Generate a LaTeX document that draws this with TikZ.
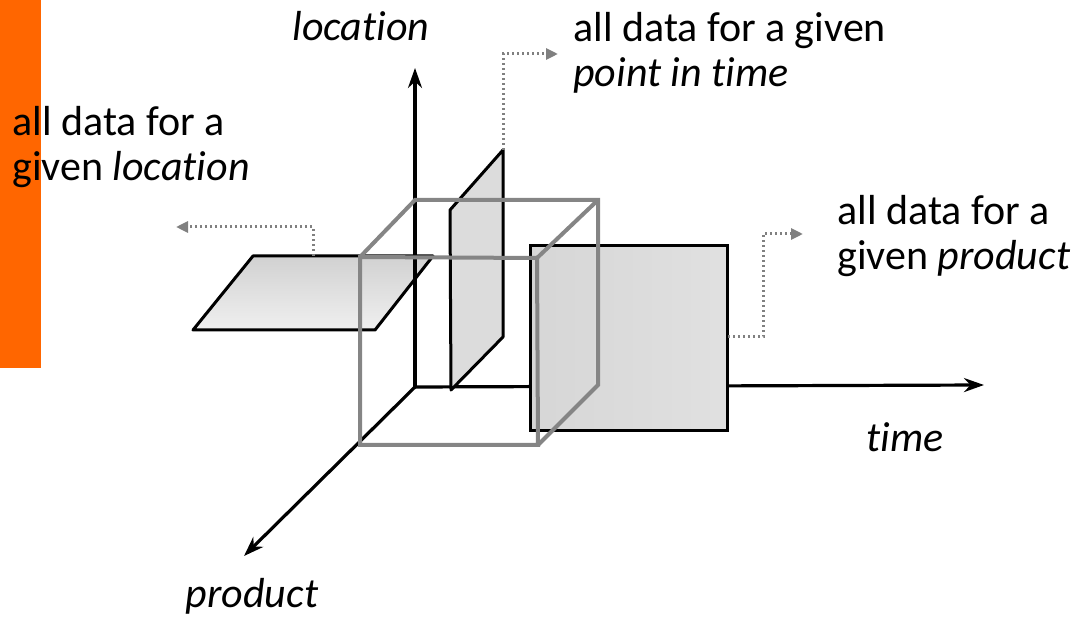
\documentclass[tikz,border=0pt]{standalone}
\usepackage{fontspec}
\setmainfont{Carlito}[Ligatures=NoCommon]
\usetikzlibrary{arrows.meta}
\definecolor{slideorange}{HTML}{FF6600}
\definecolor{cubegray}{HTML}{858585}
\definecolor{slicefill}{HTML}{DCDCDC}
\tikzset{
  axis/.style={line width=1.6pt, -{Stealth[length=10pt,width=7pt]}},
  slice/.style={draw=black, line width=1.5pt, fill=slicefill, line join=round},
  cubeedge/.style={draw=cubegray, line width=2pt},
  pointer/.style={draw=gray, line width=1.5pt, dash pattern=on 1.1pt off 1.4pt, -{Triangle[length=6pt,width=5.5pt]}},
  lbl/.style={inner sep=0pt, font=\fontsize{21}{22.5}\selectfont}
}
\begin{document}
\begin{tikzpicture}[x=0.5pt,y=-0.5pt]
            \useasboundingbox (0,0) rectangle (1076,624);
            \fill[slideorange] (0,0) rectangle (41,368);
            % origin and axes
            \coordinate (O) at (415,387);
            \coordinate (locend) at (415,68);
            \coordinate (timeend) at (984,385);
            \coordinate (prodend) at (244,556);
            % slice on location
            \shade[top color=black!18, bottom color=black!6, draw=black, line width=1.5pt, line join=round]
                (253,256) -- (433,256) -- (375,330) -- (193,330) -- cycle;
            \draw[axis] (O) -- (locend);
            \draw[axis] (O) -- (timeend);
            \draw[axis] (O) -- (prodend);
            % slice on time
            \draw[slice] (450,210) -- (503,150) -- (503,337) -- (451,390) -- cycle;
            % slice on product
            \shade[left color=black!16, right color=black!12, draw=black, line width=1.5pt]
                (530,246) rectangle (727,431);
            % cube
            \coordinate (f1) at (360,257);
            \coordinate (f2) at (537,258);
            \coordinate (f3) at (538,445);
            \coordinate (f4) at (360,445);
            \coordinate (b1) at (415,200);
            \coordinate (b2) at (598,200);
            \coordinate (b3) at (598,385);
            \draw[cubeedge] (f1) -- (f2) -- (f3) -- (f4) -- cycle;
            \draw[cubeedge] (f1) -- (b1) -- (b2) -- (b3) -- (f3);
            \draw[cubeedge] (f2) -- (b2);
            % labels
            \node[lbl, anchor=base] (loclbl) at (361,41) {\itshape location};
            \node[lbl, anchor=base] (timelbl) at (905,452) {\itshape time};
            \node[lbl, anchor=base] (prodlbl) at (252,608) {\itshape product};
            \node[lbl, anchor=base west, align=left] (timetxt) at (573,87)
                {all data for a given\\\itshape point in time};
            \node[lbl, anchor=base west, align=left] (loctxt) at (12,181)
                {all data for a\\given \itshape location};
            \node[lbl, anchor=base west, align=left] (prodtxt) at (837,270)
                {all data for a\\given \itshape product};
            % pointers
            \coordinate (p1) at (313,256);
            \coordinate (p1e) at (176,227);
            \draw[pointer] (p1) |- (p1e);
            \coordinate (p2) at (503,150);
            \coordinate (p2e) at (558,54);
            \draw[pointer] (p2) |- (p2e);
            \coordinate (p3) at (728,337);
            \coordinate (p3m) at (763,337);
            \coordinate (p3e) at (803,234);
            \draw[pointer] (p3) -- (p3m) |- (p3e);
        \end{tikzpicture}
\end{document}
